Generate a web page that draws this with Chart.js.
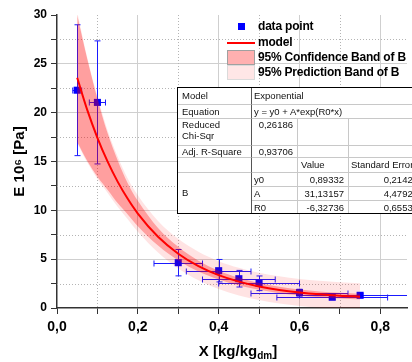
<!DOCTYPE html>
<html>
<head>
<meta charset="utf-8">
<script src="https://cdn.jsdelivr.net/npm/chart.js@4.4.1/dist/chart.umd.min.js"></script>
<style>
  html, body { margin: 0; padding: 0; background: #fff; overflow: hidden; }
  #wrap { position: relative; width: 412px; height: 362px; overflow: hidden; font-family: "Liberation Sans", Arial, sans-serif; }
  #chart { position: absolute; left: 0; top: 0; }
  #legend { position: absolute; left: 227px; top: 19px; font-size: 12px; font-weight: bold; color: #000; }
  .lg-row { position: absolute; left: 0; height: 15px; line-height: 15px; white-space: nowrap; }
  .lg-sym { position: absolute; left: 0; top: 0; width: 28px; height: 15px; box-sizing: border-box; }
  .lg-txt { position: absolute; left: 31px; top: 0; letter-spacing: -0.2px; }
  #fitTable { position: absolute; left: 177px; top: 87px; width: 250px; height: 127px; box-sizing: border-box;
              border: 1px solid #000; background: #fff; font-size: 9.5px; color: #111; }
  .cell { position: absolute; box-sizing: border-box; border-right: 1px solid #c8c8c8; border-bottom: 1px solid #c8c8c8;
          line-height: 11px; white-space: nowrap; overflow: hidden; padding: 0 4px; }
  #xTitle { position: absolute; left: 168px; top: 342px; width: 140px; text-align: center; font-size: 15px; font-weight: bold; color: #000; line-height: 17px; }
  #xTitle sub { font-size: 10px; vertical-align: -3px; line-height: 0; }
</style>
</head>
<body>
<div id="wrap">
  <canvas id="chart" width="412" height="362"></canvas>
  <div id="legend"></div>
  <div id="fitTable"></div>
  <div id="xTitle">X [kg/kg<sub>dm</sub>]</div>
</div>
<script>
const pointX = [0.05, 0.10, 0.30, 0.40, 0.45, 0.50, 0.60, 0.681, 0.75];
const pointY = [22.3, 21.05, 4.64, 3.82, 3.0, 2.53, 1.57, 1.1, 1.3];
const pointXErr = [0.011, 0.02, 0.06, 0.08, 0.09, 0.10, 0.12, 0.137, 0.15];
const pointYErr = [6.7, 6.3, 1.35, 1.15, 0.85, 0.75, 0.35, 0.2, 0.15];

// fitted curve and bands
const bandX = [0.05, 0.075, 0.1, 0.125, 0.15, 0.175, 0.2, 0.25, 0.3, 0.35, 0.4, 0.45, 0.5, 0.55, 0.6, 0.65, 0.7, 0.75];
const modelY = [23.58, 20.26, 17.43, 15.01, 12.94, 11.18, 9.67, 7.29, 5.56, 4.29, 3.37, 2.70, 2.21, 1.85, 1.59, 1.40, 1.26, 1.16];
const confUpper = [30.0, 25.46, 21.43, 17.91, 15.14, 12.78, 10.97, 8.19, 6.26, 4.84, 3.82, 3.10, 2.56, 2.18, 1.89, 1.70, 1.56, 1.46];
const confLower = [17.0, 15.06, 13.43, 12.11, 10.74, 9.58, 8.37, 6.39, 4.86, 3.74, 2.92, 2.30, 1.86, 1.52, 1.29, 1.10, 0.96, 0.86];
const predUpper = [30.3, 25.63, 21.65, 18.21, 15.52, 13.27, 11.54, 8.91, 7.08, 5.75, 4.79, 4.11, 3.60, 3.24, 2.97, 2.78, 2.64, 2.54];
const predLower = [16.84, 14.89, 13.21, 11.81, 10.36, 9.09, 7.80, 5.67, 4.04, 2.83, 1.95, 1.29, 0.82, 0.46, 0.21, 0.02, -0.12, -0.22];

// ticks
const xTickValues = [0, 0.1, 0.2, 0.3, 0.4, 0.5, 0.6, 0.7, 0.8];
const yTickValues = [0, 2.5, 5, 7.5, 10, 12.5, 15, 17.5, 20, 22.5, 25, 27.5, 30];
const xMinorTicks = [0.1, 0.3, 0.5, 0.7];
const yMinorTicks = [2.5, 7.5, 12.5, 17.5, 22.5, 27.5];

// legend + fit table text
const legendLabels = ["data point", "model", "95% Confidence Band of B", "95% Prediction Band of B"];
const fitModel = "Exponential";
const fitEquation = "y = y0 + A*exp(R0*x)";
const fitChiSqr = "0,26186";
const fitAdjR2 = "0,93706";
const paramNames = ["y0", "A", "R0"];
const paramValues = ["0,89332", "31,13157", "-6,32736"];
const paramErrors = ["0,21425", "4,47922", "0,65535"];

const fmtX = (v) => v.toFixed(1).replace(".", ",");

function toXY(xs, ys) {
  return xs.map((v, i) => ({ x: v, y: ys[i] }));
}

// dotted minor grid lines
const minorGridPlugin = {
  id: "minorGrid",
  beforeDatasetsDraw(chart) {
    const { ctx, chartArea, scales } = chart;
    ctx.save();
    ctx.strokeStyle = "#b4b4b4";
    ctx.lineWidth = 1;
    ctx.setLineDash([1, 2]);
    xMinorTicks.forEach((v) => {
      const p = Math.round(scales.x.getPixelForValue(v)) + 0.5;
      ctx.beginPath();
      ctx.moveTo(p, chartArea.top);
      ctx.lineTo(p, chartArea.bottom);
      ctx.stroke();
    });
    yMinorTicks.forEach((v) => {
      const p = Math.round(scales.y.getPixelForValue(v)) + 0.5;
      ctx.beginPath();
      ctx.moveTo(chartArea.left, p);
      ctx.lineTo(chartArea.right, p);
      ctx.stroke();
    });
    ctx.restore();
  },
};

// x and y error bars under the markers
const errorBarPlugin = {
  id: "errorBars",
  beforeDatasetDraw(chart, args) {
    if (args.index !== 5) return;
    const { ctx, chartArea, scales } = chart;
    const cap = 3;
    ctx.save();
    ctx.beginPath();
    ctx.rect(chartArea.left, chartArea.top, chartArea.right - chartArea.left, chartArea.bottom - chartArea.top);
    ctx.clip();
    ctx.strokeStyle = "#1a1aff";
    ctx.lineWidth = 1;
    for (let i = 0; i < pointX.length; i++) {
      const px = Math.round(scales.x.getPixelForValue(pointX[i])) + 0.5;
      const py = Math.round(scales.y.getPixelForValue(pointY[i])) + 0.5;
      const x1 = scales.x.getPixelForValue(pointX[i] - pointXErr[i]);
      const x2 = scales.x.getPixelForValue(pointX[i] + pointXErr[i]);
      const y1 = scales.y.getPixelForValue(pointY[i] + pointYErr[i]);
      const y2 = scales.y.getPixelForValue(pointY[i] - pointYErr[i]);
      ctx.beginPath();
      ctx.moveTo(px, y1); ctx.lineTo(px, y2);
      ctx.moveTo(px - cap, y1); ctx.lineTo(px + cap, y1);
      ctx.moveTo(px - cap, y2); ctx.lineTo(px + cap, y2);
      ctx.moveTo(x1, py); ctx.lineTo(x2, py);
      ctx.moveTo(x1, py - cap); ctx.lineTo(x1, py + cap);
      ctx.moveTo(x2, py - cap); ctx.lineTo(x2, py + cap);
      ctx.stroke();
    }
    ctx.restore();
  },
};

function createChart() {
  const ctx = document.getElementById("chart").getContext("2d");
  const bandLine = { borderColor: "transparent", borderWidth: 0, pointRadius: 0, showLine: true, cubicInterpolationMode: "monotone" };
  new Chart(ctx, {
    type: "scatter",
    data: {
      datasets: [
        { ...bandLine, data: toXY(bandX, modelY), borderColor: "#ff0000", borderWidth: 2, fill: false, order: 1 },
        { ...bandLine, data: toXY(bandX, confUpper), fill: "+1", backgroundColor: "rgba(255,0,0,0.30)", order: 2 },
        { ...bandLine, data: toXY(bandX, confLower), fill: false, order: 2 },
        { ...bandLine, data: toXY(bandX, predUpper), fill: "+1", backgroundColor: "rgba(255,0,0,0.11)", order: 3 },
        { ...bandLine, data: toXY(bandX, predLower), fill: false, order: 3 },
        {
          data: toXY(pointX, pointY),
          pointStyle: "rect",
          pointRadius: 5,
          backgroundColor: "#0000ff",
          borderWidth: 0,
          showLine: false,
          order: 4,
        },
      ],
    },
    options: {
      responsive: false,
      animation: false,
      devicePixelRatio: 1,
      events: [],
      layout: { padding: { top: 15, right: 0, bottom: 0, left: 0 } },
      plugins: { legend: { display: false }, tooltip: { enabled: false } },
      scales: {
        x: {
          type: "linear",
          min: 0,
          max: 0.866,
          afterBuildTicks: (s) => { s.ticks = xTickValues.map((v) => ({ value: v })); },
          afterFit: (s) => { s.height = 54; },
          ticks: {
            autoSkip: false,
            maxRotation: 0,
            padding: 5,
            color: "#000",
            font: { family: "Liberation Sans", size: 14, weight: "bold" },
            callback: (v) => (Math.round(v * 10) % 2 === 0 ? fmtX(v) : ""),
          },
          grid: {
            color: (c) => (c.tick && Math.round(c.tick.value * 10) % 2 === 0 && c.tick.value > 0 ? "#cfcfcf" : "rgba(0,0,0,0)"),
            tickColor: "#333",
            tickLength: 6,
          },
          border: { color: "#333", width: 1.5 },
        },
        y: {
          type: "linear",
          min: 0,
          max: 30,
          afterBuildTicks: (s) => { s.ticks = yTickValues.map((v) => ({ value: v })); },
          afterFit: (s) => { s.width = 57; },
          ticks: {
            autoSkip: false,
            padding: 4,
            color: "#000",
            font: { family: "Liberation Sans", size: 12, weight: "bold" },
            callback: (v) => (v % 5 === 0 ? String(v) : ""),
          },
          grid: {
            color: (c) => (c.tick && c.tick.value % 5 === 0 && c.tick.value > 0 && c.tick.value < 30 ? "#cfcfcf" : "rgba(0,0,0,0)"),
            tickColor: "#333",
            tickLength: 6,
          },
          border: { color: "#333", width: 1.5 },
          title: {
            display: true,
            text: "E 10\u2076 [Pa]",
            color: "#000",
            font: { family: "Liberation Sans", size: 15, weight: "bold" },
            padding: { top: 11, bottom: 0 },
          },
        },
      },
    },
    plugins: [minorGridPlugin, errorBarPlugin],
  });
}

function buildLegend() {
  const box = document.getElementById("legend");
  const syms = [
    '<div class="lg-sym"><div style="position:absolute;left:11px;top:4px;width:7px;height:7px;background:#0000ff"></div></div>',
    '<div class="lg-sym"><div style="position:absolute;left:0;top:7px;width:28px;height:2px;background:#ff0000"></div></div>',
    '<div class="lg-sym" style="background:#ffb0b0;border:1px solid #a0a0a0"></div>',
    '<div class="lg-sym" style="background:#ffe6e6;border:1px solid #dadada"></div>',
  ];
  const tops = [0, 16, 31, 46];
  legendLabels.forEach((t, i) => {
    const row = document.createElement("div");
    row.className = "lg-row";
    row.style.top = tops[i] + "px";
    row.innerHTML = syms[i] + '<span class="lg-txt">' + t + "</span>";
    box.appendChild(row);
  });
}

function buildTable() {
  const tbl = document.getElementById("fitTable");
  const cols = [0, 74, 120, 171, 245];
  function cell(c0, c1, y, h, text, align, padTop, extra) {
    const d = document.createElement("div");
    d.className = "cell";
    d.style.left = cols[c0] + "px";
    d.style.width = cols[c1] - cols[c0] + "px";
    d.style.top = y + "px";
    d.style.height = h + "px";
    d.style.textAlign = align || "left";
    d.style.paddingTop = (padTop || 0) + "px";
    if (c0 === 0) d.style.borderRightColor = "#555";
    if (extra) Object.assign(d.style, extra);
    d.innerHTML = text;
    tbl.appendChild(d);
  }
  cell(0, 1, 0, 17, "Model", "left", 2);
  cell(1, 4, 0, 17, fitModel, "left", 2, { paddingLeft: "2px" });
  cell(0, 1, 17, 14, "Equation", "left", 1);
  cell(1, 4, 17, 14, fitEquation, "left", 1, { paddingLeft: "2px" });
  cell(0, 1, 31, 27, "Reduced<br>Chi-Sqr", "left", 0);
  cell(1, 2, 31, 27, fitChiSqr, "right", 0);
  cell(2, 3, 31, 27, "");
  cell(3, 4, 31, 27, "");
  cell(0, 1, 58, 12, "Adj. R-Square", "left", 0);
  cell(1, 2, 58, 12, fitAdjR2, "right", 0);
  cell(2, 3, 58, 12, "");
  cell(3, 4, 58, 12, "");
  cell(0, 1, 70, 15, "");
  cell(1, 2, 70, 15, "");
  cell(2, 3, 70, 15, "Value", "left", 1, { paddingLeft: "3px" });
  cell(3, 4, 70, 15, "Standard Error", "left", 1, { paddingLeft: "2px" });
  cell(0, 1, 85, 40, "B", "left", 0, { lineHeight: "40px", borderBottom: "none" });
  const rowTops = [85, 99, 113];
  const rowH = [14, 14, 12];
  paramNames.forEach((p, i) => {
    const last = i === paramNames.length - 1 ? { borderBottom: "none" } : null;
    cell(1, 2, rowTops[i], rowH[i], p, "left", 1, Object.assign({ paddingLeft: "2px" }, last));
    cell(2, 3, rowTops[i], rowH[i], paramValues[i], "right", 1, last);
    cell(3, 4, rowTops[i], rowH[i], paramErrors[i], "right", 1, last);
  });
}

buildLegend();
buildTable();
createChart();
</script>
</body>
</html>
